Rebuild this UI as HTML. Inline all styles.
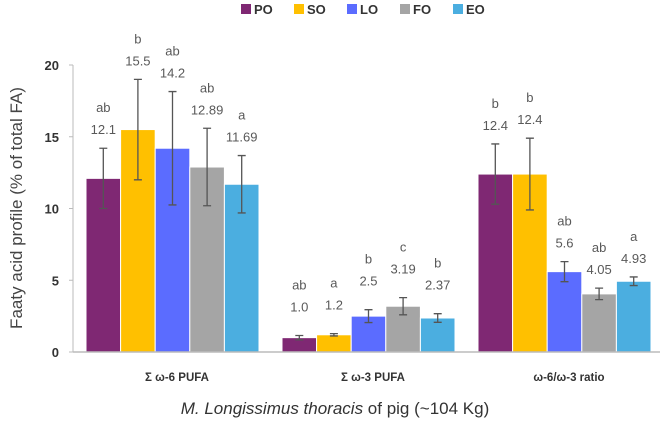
<!DOCTYPE html>
<html><head><meta charset="utf-8"><style>
body{margin:0;background:#fff;}
svg{font-family:"Liberation Sans",sans-serif;display:block}
</style></head><body>
<svg id="c" width="665" height="422"></svg>
<script>
const categories=["Σ ω-6 PUFA","Σ ω-3 PUFA","ω-6/ω-3 ratio"];
const seriesNames=["PO","SO","LO","FO","EO"];
const colors=["#7F2873","#FFC000","#5B6CFF","#A5A5A5","#4BAEE0"];
const PO=[12.1,1.0,12.4];
const SO=[15.5,1.2,12.4];
const LO=[14.2,2.5,5.6];
const FO=[12.89,3.19,4.05];
const EO=[11.69,2.37,4.93];
const errPO=[2.1,0.15,2.1];
const errSO=[3.5,0.08,2.5];
const errLO=[3.95,0.45,0.7];
const errFO=[2.7,0.6,0.4];
const errEO=[2.0,0.3,0.3];
const labPO=["12.1","1.0","12.4"],letPO=["ab","ab","b"];
const labSO=["15.5","1.2","12.4"],letSO=["b","a","b"];
const labLO=["14.2","2.5","5.6"],letLO=["ab","b","ab"];
const labFO=["12.89","3.19","4.05"],letFO=["ab","c","ab"];
const labEO=["11.69","2.37","4.93"],letEO=["a","b","a"];
const yTicks=[0,5,10,15,20];
const series=[PO,SO,LO,FO,EO],errs=[errPO,errSO,errLO,errFO,errEO];
const labs=[labPO,labSO,labLO,labFO,labEO],lets=[letPO,letSO,letLO,letFO,letEO];
const svg=document.getElementById('c');const NS="http://www.w3.org/2000/svg";
function mk(t,a,txt){const e=document.createElementNS(NS,t);for(const k in a)e.setAttribute(k,a[k]);if(txt!=null)e.textContent=txt;svg.appendChild(e);return e;}
const x0=73,bandW=196,y0=352,pxU=14.35,barW=34.6;
const y=v=>y0-v*pxU;
const bx=(c,s)=>x0+c*bandW+13+s*barW;
let e=mk('line',{x1:x0,y1:y(20),x2:x0,y2:y0,stroke:'#bbb','stroke-width':1});

yTicks.forEach(t=>{
  let l=mk('line',{x1:x0-4,y1:y(t),x2:x0,y2:y(t),stroke:'#bbb'});
  
  let tx=mk('text',{x:x0-14,y:y(t)+5,'text-anchor':'end','font-size':13,'font-weight':'bold',fill:'#333'},t);
  
});
categories.forEach((c,ci)=>{
  series.forEach((s,si)=>{
    const v=s[ci],er=errs[si][ci],X=bx(ci,si);
    let r=mk('rect',{x:X,y:y(v),width:barW,height:y0-y(v),fill:colors[si],stroke:'#fff','stroke-width':1});
    
    const cx=X+barW/2;
    let g=mk('path',{d:`M${cx} ${y(v+er)}V${y(v-er)}M${cx-4} ${y(v+er)}H${cx+4}M${cx-4} ${y(v-er)}H${cx+4}`,stroke:'#555','stroke-width':1.3,fill:'none'});
    
    const top=y(v+er)-(ci===1?10:0);
    let n=mk('text',{x:cx,y:top-14,'text-anchor':'middle','font-size':13,fill:'#595959'},labs[si][ci]);
    
    let le=mk('text',{x:cx,y:top-36,'text-anchor':'middle','font-size':13,fill:'#595959'},lets[si][ci]);
    
  });
  let cl=mk('text',{x:x0+ci*bandW+bandW/2+6,y:381,'text-anchor':'middle','font-size':11.5,'font-weight':'bold',fill:'#333'},c);
  
});
e=mk('line',{x1:x0,y1:y0,x2:660,y2:y0,stroke:'#bbb','stroke-width':1.5});

seriesNames.forEach((n,i)=>{
  const lx=241+i*53;
  let r=mk('rect',{x:lx,y:4,width:10,height:10,fill:colors[i]});
  
  let t=mk('text',{x:lx+13,y:14,'font-size':13,'font-weight':'bold',fill:'#333'},n);
  
});
e=mk('text',{x:22,y:208,transform:'rotate(-90 22 208)','text-anchor':'middle','font-size':17,fill:'#444'},'Faaty acid profile (% of total FA)');

e=mk('text',{x:335,y:414,'text-anchor':'middle','font-size':17,fill:'#333'});

e.innerHTML='<tspan font-style="italic">M. Longissimus thoracis</tspan> of pig (~104 Kg)';
</script>
</body></html>
